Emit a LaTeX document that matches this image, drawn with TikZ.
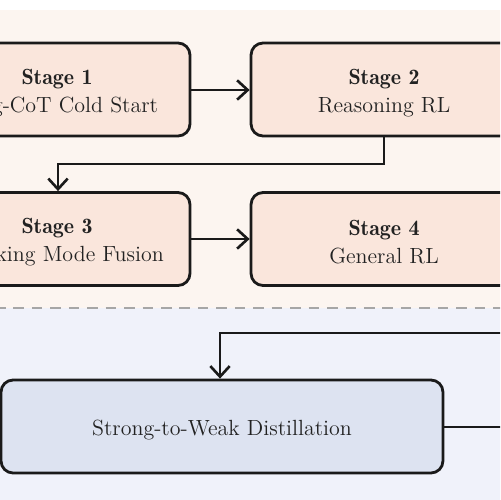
\documentclass[tikz,border=0pt]{standalone}
\usetikzlibrary{arrows.meta}
\definecolor{topbg}{HTML}{FCF5F0}
\definecolor{botbg}{HTML}{F0F2FA}
\definecolor{stagefill}{HTML}{FAE6DC}
\definecolor{distfill}{HTML}{DDE3F1}
\definecolor{edge}{HTML}{1A1A1A}
\definecolor{txt}{HTML}{222222}
\tikzset{
  stagebox/.style={draw=edge, line width=1.6pt, rounded corners=0.24cm, fill=stagefill,
    minimum width=5.32cm, minimum height=1.86cm, align=center, text=txt,
    font=\fontsize{12.5}{16}\selectfont},
  distbox/.style={stagebox, fill=distfill, minimum width=8.84cm},
  conn/.style={draw=edge, line width=1.5pt, -{Straight Barb[length=6pt,width=11pt,line width=1.5pt]}},
  plain/.style={draw=edge, line width=1.5pt},
}
\newcommand{\stg}[1]{{\fontseries{b}\selectfont #1}}
\newcommand{\tp}{\rule{0pt}{12.5pt}}
\begin{document}
\begin{tikzpicture}[x=0.02cm,y=-0.02cm]
\path[use as bounding box] (0,0) rectangle (500,500);
\clip (0,0) rectangle (500,500);
\fill[white] (0,0) rectangle (500,500);
\fill[topbg] (-20,10) rectangle (520,308);
\fill[botbg] (-20,308) rectangle (520,520);
\draw[gray!70, line width=1.2pt, dash pattern=on 6pt off 4.5pt] (-5,308) -- (505,308);

\node[stagebox] (s1) at (57,89.5) {\tp\stg{Stage 1}\\Long-CoT Cold Start};
\node[stagebox] (s2) at (384,89.5) {\tp\stg{Stage 2}\\Reasoning RL};
\node[stagebox] (s3) at (57,239) {\tp\stg{Stage 3}\\Thinking Mode Fusion};
\node[stagebox] (s4) at (384,239) {\tp\stg{Stage 4}\\General RL};
\node[distbox] (d) at (222,426.5) {\tp Strong-to-Weak Distillation};

\coordinate (inR) at (520,333);
\coordinate (outR) at (520,427);

\draw[conn] (s1.east |- 0,90) -- (s2.west |- 0,90);
\draw[conn] (s2.south) -- (384,164) -- (58,164) -- (58,164 |- s3.north);
\draw[conn] (s3.east |- 0,239) -- (s4.west |- 0,239);
\draw[conn] (inR) -- (220,333) -- (220,333 |- d.north);
\draw[plain] (d.east |- outR) -- (outR);
\end{tikzpicture}
\end{document}
